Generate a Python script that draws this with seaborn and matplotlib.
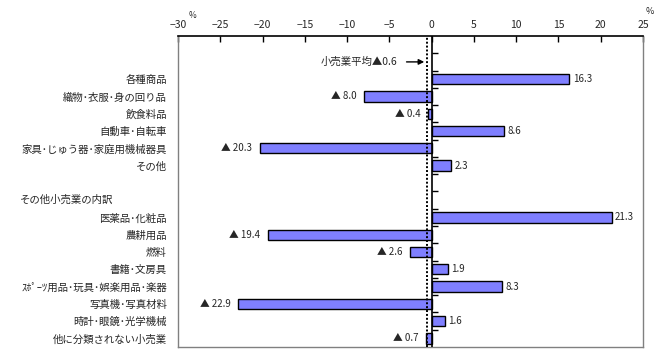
import numpy as np
import pandas as pd
import matplotlib
matplotlib.use("Agg")
import matplotlib.pyplot as plt
import matplotlib.transforms as mtransforms
import seaborn as sns

# データ (空行は None)
labels = ["", " ", "各種商品", "織物･衣服･身の回り品", "飲食料品", "自動車･自転車",
          "家具･じゅう器･家庭用機械器具", "その他", "  ", "   ",
          "医薬品･化粧品", "農耕用品", "燃料", "書籍･文房具",
          "ｽﾎﾟｰﾂ用品･玩具･娯楽用品･楽器", "写真機･写真材料", "時計･眼鏡･光学機械",
          "他に分類されない小売業"]
values = [None, None, 16.3, -8.0, -0.4, 8.6, -20.3, 2.3, None, None,
          21.3, -19.4, -2.6, 1.9, 8.3, -22.9, 1.6, -0.7]
header = "その他小売業の内訳"
average = -0.6
xticks = [-30, -25, -20, -15, -10, -5, 0, 5, 10, 15, 20, 25]

sns.set_style("white")
plt.rcParams["font.family"] = ["Noto Sans CJK JP", "DejaVu Sans"]

df = pd.DataFrame({"label": labels, "value": values})
df["value"] = df["value"].astype(float)

fig = plt.figure(figsize=(6.68, 3.62), dpi=100)
ax = fig.add_axes([0.2665, 0.0414, 0.6961, 0.8592])

sns.barplot(data=df, y="label", x="value", order=labels, orient="h",
            color="#7f7fff", saturation=1, edgecolor="black", linewidth=1,
            width=0.6, ax=ax, errorbar=None)

ax.set_xlim(-30, 25)
ax.set_ylim(len(labels) - 0.5, -0.5)
ax.set_xlabel("")
ax.set_ylabel("")

# 上側の目盛
ax.xaxis.tick_top()
ax.set_xticks(xticks)
ax.set_xticklabels([str(t).replace("-", "−") for t in xticks], fontsize=7.5)
ax.tick_params(axis="x", direction="in", length=4, width=1, color="black", pad=4)
ax.tick_params(axis="y", length=0, pad=8, labelsize=7.5)

for side in ["left", "right", "bottom"]:
    ax.spines[side].set_color("#808080")
    ax.spines[side].set_linewidth(1)
ax.spines["top"].set_color("black")
ax.spines["top"].set_linewidth(1.2)

# 0 の線と区切り目盛
ax.axvline(0, color="black", lw=1.2, zorder=3)
bounds = np.arange(len(labels) - 1) + 0.5
ax.plot(np.zeros(len(bounds)), bounds, ls="", marker=1, ms=4, mew=1,
        color="black", zorder=3)

# 平均線
ax.axvline(average, color="black", lw=1.4, ls=(0, (1, 1)), zorder=4)
ax.annotate("", xy=(average + 0.05, 1), xytext=(-3.3, 1),
            arrowprops=dict(arrowstyle="-|>", color="black", lw=1,
                            mutation_scale=8))
ax.text(-4.1, 1, "小売業平均▲0.6", ha="right", va="center", fontsize=7.5)

# 値ラベル
for i, v in enumerate(values):
    if v is None:
        continue
    if v < 0:
        ax.text(v - 0.9, i, f"▲ {abs(v):.1f}", ha="right", va="center", fontsize=7)
    else:
        ax.text(v + 0.4, i, f"{v:.1f}", ha="left", va="center", fontsize=7)

# 見出し
trans = mtransforms.blended_transform_factory(fig.transFigure, ax.transData)
ax.text(20 / 668, 9, header, transform=trans, ha="left",
        va="center", fontsize=7.5, clip_on=False)

fig.text(193 / 668, 1 - 16 / 362, "%", fontsize=6, ha="center", va="center")
fig.text(650 / 668, 1 - 12 / 362, "%", fontsize=6.5, ha="center", va="center")

fig.savefig("out.png", dpi=100)
